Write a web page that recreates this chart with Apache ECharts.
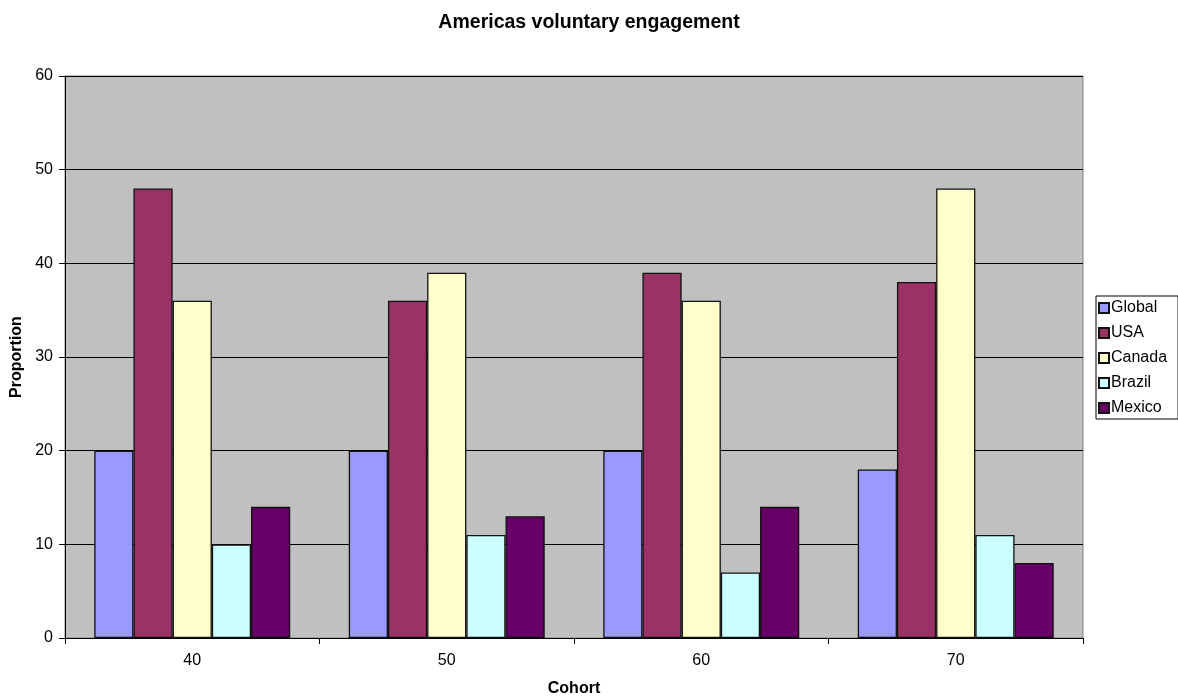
<!DOCTYPE html>
<html>
<head>
<meta charset="utf-8">
<script src="https://cdn.jsdelivr.net/npm/echarts@6/dist/echarts.min.js"></script>
<style>
  html, body { margin: 0; padding: 0; background: #ffffff; }
  #chart { width: 1178px; height: 698px; }
</style>
</head>
<body>
<div id="chart"></div>
<script>
// Cohort categories and per-country proportions
const cohorts = ['40', '50', '60', '70'];
const seriesNames = ['Global', 'USA', 'Canada', 'Brazil', 'Mexico'];
const globalValues = [20, 20, 20, 18];
const usaValues = [48, 36, 39, 38];
const canadaValues = [36, 39, 36, 48];
const brazilValues = [10, 11, 7, 11];
const mexicoValues = [14, 13, 14, 8];
const seriesColors = ['#9999FF', '#993366', '#FFFFCC', '#CCFFFF', '#660066'];

const valueLists = [globalValues, usaValues, canadaValues, brazilValues, mexicoValues];
const font = 'Liberation Sans, Arial, sans-serif';

const chart = echarts.init(document.getElementById('chart'));
chart.setOption({
  animation: false,
  backgroundColor: '#ffffff',
  title: {
    text: 'Americas voluntary engagement',
    left: 'center',
    top: 7,
    textStyle: { fontFamily: font, fontSize: 19.5, fontWeight: 'bold', color: '#000', lineHeight: 22 }
  },
  legend: {
    orient: 'vertical',
    left: 1096,
    top: 296,
    padding: [4, 11, 3, 2],
    itemWidth: 10,
    itemHeight: 10,
    itemGap: 9,
    icon: 'rect',
    backgroundColor: '#ffffff',
    borderColor: '#000000',
    borderWidth: 1,
    borderRadius: 0,
    textStyle: { fontFamily: font, fontSize: 16, color: '#000', padding: [0, 0, 0, -3], lineHeight: 16 },
    data: seriesNames
  },
  grid: {
    left: 65,
    right: 95,
    top: 76,
    bottom: 60,
    outerBoundsMode: 'none',
    containLabel: false,
    show: true,
    backgroundColor: '#C0C0C0',
    borderColor: '#808080',
    borderWidth: 1
  },
  xAxis: {
    type: 'category',
    data: cohorts,
    name: 'Cohort',
    nameLocation: 'middle',
    nameGap: 43,
    nameTextStyle: { fontFamily: font, fontSize: 16, fontWeight: 'bold', color: '#000' },
    axisLine: { lineStyle: { color: '#000', width: 1 } },
    axisTick: { show: true, length: 6, interval: 0, lineStyle: { color: '#000' } },
    axisLabel: { fontFamily: font, fontSize: 16, color: '#000', margin: 15 },
    splitLine: { show: false }
  },
  yAxis: {
    type: 'value',
    min: 0,
    max: 60,
    interval: 10,
    name: 'Proportion',
    nameLocation: 'middle',
    nameGap: 39,
    nameRotate: 90,
    nameTextStyle: { fontFamily: font, fontSize: 16, fontWeight: 'bold', color: '#000' },
    axisLine: { show: true, lineStyle: { color: '#000', width: 1 } },
    axisTick: { show: true, length: 6, lineStyle: { color: '#000' } },
    axisLabel: { fontFamily: font, fontSize: 16, color: '#000', margin: 12 },
    splitLine: { show: true, lineStyle: { color: '#000', width: 1 } }
  },
  series: seriesNames.map((name, i) => ({
    name: name,
    type: 'bar',
    data: valueLists[i],
    barGap: '0%',
    barCategoryGap: '23%',
    itemStyle: { color: seriesColors[i], borderColor: '#111', borderWidth: 1.3 }
  }))
});
</script>
</body>
</html>
